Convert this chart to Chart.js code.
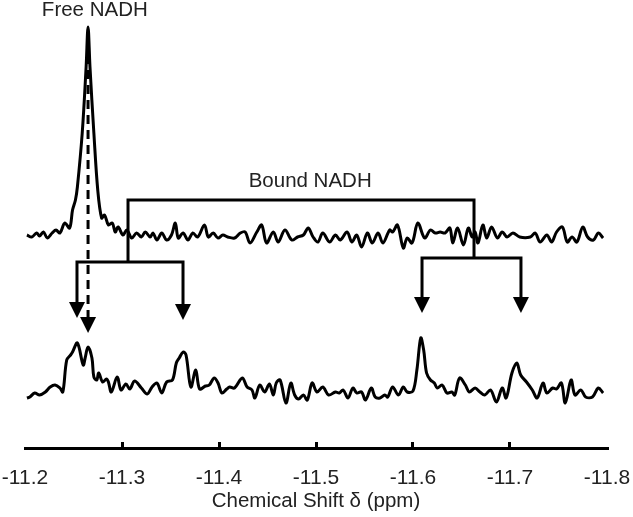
<!DOCTYPE html>
<html>
<head>
<meta charset="utf-8">
<script src="https://cdn.jsdelivr.net/npm/chart.js@4.4.1/dist/chart.umd.min.js"></script>
<style>
  html, body { margin: 0; padding: 0; background: #fff; }
  #wrap { width: 633px; height: 517px; }
</style>
</head>
<body>
<div id="wrap"><canvas id="nmr" width="633" height="517"></canvas></div>
<script>
// --- data (ppm, intensity a.u.) ---
const xTicks = [-11.2, -11.3, -11.4, -11.5, -11.6, -11.7, -11.8];

// upper trace (free NADH spectrum)
const topPpm = [
  -11.202, -11.207, -11.212, -11.215, -11.219, -11.223, -11.228, -11.232, -11.236, -11.241,
  -11.246, -11.249, -11.252, -11.254, -11.259, -11.263, -11.265, -11.267, -11.271, -11.275,
  -11.279, -11.282, -11.286, -11.290, -11.293, -11.296, -11.301, -11.305, -11.310, -11.315,
  -11.320, -11.324, -11.329, -11.332, -11.336, -11.341, -11.346, -11.351, -11.355, -11.358,
  -11.363, -11.368, -11.373, -11.378, -11.385, -11.389, -11.394, -11.399, -11.404, -11.409,
  -11.416, -11.422, -11.427, -11.432, -11.439, -11.444, -11.449, -11.456, -11.461, -11.468,
  -11.475, -11.481, -11.487, -11.492, -11.497, -11.502, -11.507, -11.514, -11.520, -11.525,
  -11.532, -11.537, -11.542, -11.547, -11.553, -11.558, -11.564, -11.569, -11.576, -11.579,
  -11.584, -11.590, -11.594, -11.599, -11.605, -11.612, -11.618, -11.623, -11.628, -11.633,
  -11.638, -11.641, -11.646, -11.652, -11.657, -11.661, -11.664, -11.667, -11.672, -11.676,
  -11.681, -11.687, -11.692, -11.697, -11.703, -11.710, -11.721, -11.726, -11.731, -11.738,
  -11.743, -11.748, -11.754, -11.759, -11.764, -11.769, -11.775, -11.780, -11.786, -11.791,
  -11.796
];
const topInt = [
  0, -2, 2, -1, 3, -3, 2, 5, 2, 12,
  7, 25, 35, 48, 102, 168, 208, 168, 102, 45,
  17, 20, 10, 12, 3, 8, 0, 5, -3, 2,
  -2, 3, -2, 2, -5, 2, -5, 0, 12, -3,
  2, -5, 2, -2, 10, -2, 2, -3, 0, -2,
  -3, 2, 3, -8, 3, 10, -8, 3, -7, 5,
  -5, -2, 0, 7, -2, -7, 2, -7, 0, -5,
  3, -7, 0, -12, 2, -8, 2, -8, 5, 3,
  10, -13, -3, -8, 12, -3, 5, 2, 3, 2,
  7, -8, 7, -10, 7, -2, 3, -8, 10, -3,
  8, -3, 3, -2, 2, -2, -2, 2, -7, 0,
  -7, 3, 8, -7, -2, -7, 8, -2, -5, 2,
  -3
];

// lower trace (NADH + enzyme spectrum)
const botPpm = [
  -11.202, -11.205, -11.210, -11.215, -11.221, -11.226, -11.231, -11.236, -11.239, -11.243,
  -11.247, -11.249, -11.254, -11.260, -11.262, -11.265, -11.269, -11.271, -11.274, -11.276,
  -11.280, -11.284, -11.286, -11.289, -11.295, -11.299, -11.304, -11.308, -11.313, -11.320,
  -11.326, -11.331, -11.336, -11.341, -11.346, -11.352, -11.356, -11.359, -11.363, -11.366,
  -11.371, -11.376, -11.380, -11.386, -11.390, -11.395, -11.399, -11.403, -11.408, -11.411,
  -11.416, -11.424, -11.429, -11.434, -11.437, -11.442, -11.447, -11.452, -11.456, -11.459,
  -11.463, -11.469, -11.474, -11.478, -11.482, -11.487, -11.491, -11.496, -11.501, -11.507,
  -11.513, -11.520, -11.524, -11.528, -11.533, -11.538, -11.542, -11.547, -11.551, -11.557,
  -11.561, -11.566, -11.571, -11.574, -11.579, -11.585, -11.590, -11.594, -11.600, -11.604,
  -11.608, -11.611, -11.614, -11.618, -11.622, -11.625, -11.630, -11.635, -11.640, -11.643,
  -11.648, -11.654, -11.658, -11.664, -11.669, -11.674, -11.680, -11.686, -11.692, -11.696,
  -11.702, -11.707, -11.711, -11.717, -11.723, -11.728, -11.734, -11.738, -11.744, -11.748,
  -11.753, -11.757, -11.763, -11.767, -11.773, -11.778, -11.785, -11.791, -11.796
];
const botInt = [
  -8, -7, -3, -5, -2, 3, 5, 2, -2, 30,
  35, 38, 47, 25, 32, 43, 32, 13, 10, 17,
  8, 11, 8, -2, 13, 0, 6, 1, 9, 2,
  -4, 3, 7, -3, 8, 10, 27, 32, 38, 35,
  3, 20, 1, 4, 5, 12, 7, -3, 1, 3,
  2, 12, 3, 0, -8, 5, -2, 6, -5, 7,
  10, -13, 7, -5, -9, -5, -10, 7, -2, 3,
  -5, -2, -3, 0, -8, 2, -3, -2, -10, 2,
  -7, -8, -5, -7, 3, -5, 3, -2, -1, 20,
  52, 40, 17, 10, 7, 2, 5, -3, -2, -5,
  12, 5, -2, 2, -2, -5, 0, -12, 2, -8,
  17, 27, 15, 8, 0, -8, 7, -3, 2, 1,
  7, -13, 10, -5, 0, -7, -7, 2, -3
];

// vertical stacking of the two spectra
const TOP_OFFSET = 213;
const BOT_OFFSET = 58;

function toPoints(xs, ys, offset) {
  return xs.map((x, i) => ({ x: x, y: ys[i] + offset }));
}

const FONT = "'Liberation Sans', Arial, sans-serif";
const TEXT = "#222";

// --- annotations: labels, brackets and arrows (in data units) ---
const annotate = {
  id: "annotate",
  afterDatasetsDraw(chart) {
    const { ctx, scales: { x, y } } = chart;
    const px = v => x.getPixelForValue(v);
    const py = v => y.getPixelForValue(v);

    ctx.save();
    ctx.strokeStyle = "#000";
    ctx.fillStyle = "#000";
    ctx.lineWidth = 3;
    ctx.lineCap = "butt";

    const line = (pts) => {
      ctx.beginPath();
      pts.forEach((p, i) => {
        const X = px(p[0]), Y = py(p[1]);
        if (i === 0) ctx.moveTo(X, Y); else ctx.lineTo(X, Y);
      });
      ctx.stroke();
    };
    const head = (xv, tipV) => {
      const X = px(xv), tip = py(tipV);
      ctx.beginPath();
      ctx.moveTo(X - 8, tip - 16);
      ctx.lineTo(X + 8, tip - 16);
      ctx.lineTo(X, tip);
      ctx.closePath();
      ctx.fill();
    };

    // big bracket over the upper trace
    line([[-11.3062, 186], [-11.3062, 248], [-11.6629, 248], [-11.6629, 190]]);
    // left pair
    line([[-11.2536, 141], [-11.2536, 186], [-11.3629, 186], [-11.3629, 139]]);
    head(-11.2536, 130);
    head(-11.3629, 128);
    // right pair
    line([[-11.6093, 146], [-11.6093, 190], [-11.7113, 190], [-11.7113, 146]]);
    head(-11.6093, 135);
    head(-11.7113, 135);

    // dashed free NADH marker
    ctx.setLineDash([9, 6]);
    line([[-11.265, 393], [-11.265, 127]]);
    ctx.setLineDash([]);
    head(-11.265, 115);

    ctx.fillStyle = TEXT;
    ctx.font = "20.5px " + FONT;
    ctx.textAlign = "center";
    ctx.textBaseline = "middle";
    ctx.fillText("Free NADH", px(-11.272), py(438));
    ctx.fillText("Bound NADH", px(-11.494), py(267));
    ctx.restore();
  }
};

new Chart(document.getElementById("nmr"), {
  type: "scatter",
  data: {
    datasets: [
      {
        label: "Free NADH",
        data: toPoints(topPpm, topInt, TOP_OFFSET),
        showLine: true,
        borderColor: "#000",
        borderWidth: 3,
        pointRadius: 0,
        tension: 0.35
      },
      {
        label: "NADH + protein",
        data: toPoints(botPpm, botInt, BOT_OFFSET),
        showLine: true,
        borderColor: "#000",
        borderWidth: 3,
        pointRadius: 0,
        tension: 0.35
      }
    ]
  },
  options: {
    responsive: false,
    animation: false,
    layout: { padding: { left: 25, right: 26, top: 0, bottom: 0 } },
    plugins: {
      legend: { display: false },
      tooltip: { enabled: false }
    },
    scales: {
      x: {
        type: "linear",
        reverse: true,
        min: -11.8,
        max: -11.2,
        afterBuildTicks: (s) => { s.ticks = xTicks.map(v => ({ value: v })); },
        afterFit: (s) => {
          s.height = 69;
          s.paddingLeft = 0;
          s.paddingRight = 0;
        },
        border: { display: true, color: "#000", width: 3 },
        grid: {
          drawOnChartArea: false,
          lineWidth: 3,
          tickLength: -6,
          // no tick marks at the two ends of the axis
          color: (c) => (c.index === 0 || c.index === xTicks.length - 1) ? "rgba(0,0,0,0)" : "#000"
        },
        ticks: {
          color: TEXT,
          font: { family: FONT, size: 21 },
          padding: 24,
          maxRotation: 0,
          callback: v => v.toFixed(1)
        },
        title: {
          display: true,
          text: "Chemical Shift δ (ppm)",
          color: TEXT,
          font: { family: FONT, size: 20.5 },
          padding: { top: 0, bottom: 3 }
        }
      },
      y: {
        display: false,
        min: 0,
        max: 448
      }
    }
  },
  plugins: [annotate]
});
</script>
</body>
</html>
